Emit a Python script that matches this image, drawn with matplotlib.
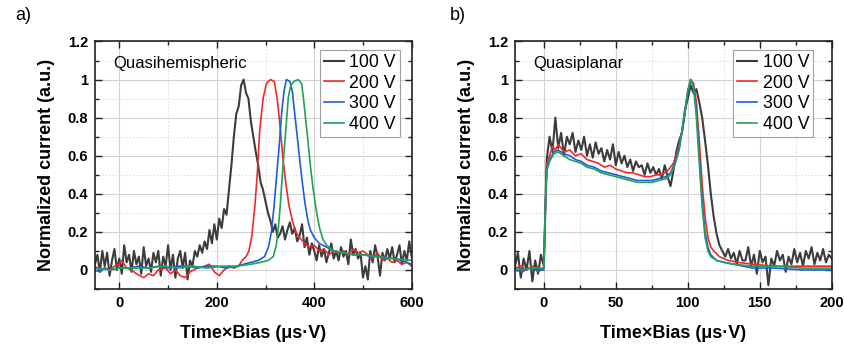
#!/usr/bin/env python3
"""Normalized transient current vs Time x Bias for two detector geometries."""

import matplotlib
matplotlib.use("Agg")
import matplotlib.pyplot as plt
from matplotlib.ticker import MultipleLocator, FuncFormatter
import numpy as np

plt.rcParams["font.family"] = ["Liberation Sans", "DejaVu Sans"]

labels = ["100 V", "200 V", "300 V", "400 V"]
colors = ["#3c3c3c", "#f02a2a", "#1f5fd6", "#1fa35a"]

# ── panel a: quasihemispheric ─────────────────────────────────────────────────
a_x100 = np.arange(-50, 601, 5)
a_y100 = [0.03, 0.08, -0.01, 0.1, 0.02, 0.09, -0.03, 0.05, 0.11, 0.0,
          0.06, -0.02, 0.13, 0.04, 0.08, -0.01, 0.1, 0.03, 0.07, -0.02,
          0.12, 0.02, 0.06, -0.01, 0.09, 0.04, 0.1, -0.03, 0.07, 0.02,
          0.13, 0.0, 0.08, -0.04, 0.06, 0.1, 0.01, 0.09, -0.05, 0.05,
          0.02, 0.1, 0.07, 0.13, 0.09, 0.15, 0.11, 0.21, 0.14, 0.24,
          0.16, 0.27, 0.22, 0.32, 0.29, 0.42, 0.55, 0.7, 0.82, 0.86,
          0.97, 1.0, 0.93, 0.9, 0.78, 0.7, 0.62, 0.55, 0.46, 0.42,
          0.36, 0.3, 0.26, 0.2, 0.24, 0.17, 0.19, 0.23, 0.16, 0.21,
          0.25, 0.19, 0.22, 0.15, 0.18, 0.24, 0.12, 0.17, 0.08, 0.14,
          0.1, 0.05, 0.13, 0.07, 0.11, 0.04, 0.09, 0.14, 0.06, 0.1,
          0.05, 0.12, 0.07, 0.1, 0.03, 0.16, 0.08, 0.11, 0.06, 0.09,
          -0.04, 0.02, -0.05, 0.1, 0.04, 0.13, 0.07, -0.03, 0.09, 0.05,
          0.11, 0.06, 0.12, 0.04, 0.08, 0.13, 0.03, 0.1, 0.05, 0.15,
          0.07]

a_x200 = [-50, -40, -30, -20, -10, 0, 5, 15, 25, 35, 50, 60, 70, 80, 95, 105,
          115, 125, 135, 145, 160, 175, 185, 195, 205, 215, 225, 235, 245, 252,
          260, 266, 272, 278, 283, 288, 295, 302, 310, 318, 324, 330, 336, 342,
          348, 355, 362, 370, 380, 390, 400, 410, 420, 430, 440, 450, 460, 470,
          480, 490, 500, 510, 520, 530, 540, 550, 560, 570, 580, 590, 600]
a_y200 = [0.02, 0.0, 0.01, 0.0, 0.02, 0.03, 0.05, 0.01, 0.0, -0.02, -0.04,
          -0.02, -0.03, 0.0, 0.01, -0.02, 0.0, -0.03, -0.04, -0.01, 0.01, 0.02,
          0.03, -0.01, -0.03, 0.0, 0.02, 0.01, 0.02, 0.05, 0.07, 0.1, 0.18,
          0.33, 0.5, 0.73, 0.9, 0.98, 1.0, 0.99, 0.9, 0.75, 0.58, 0.45, 0.34,
          0.26, 0.2, 0.17, 0.14, 0.12, 0.13, 0.1, 0.11, 0.08, 0.1, 0.09, 0.1,
          0.08, 0.11, 0.09, 0.1, 0.08, 0.06, 0.09, 0.05, 0.06, 0.04, 0.05,
          0.03, 0.04, 0.02]

a_x300 = [-50, -40, -30, -20, 0, 20, 40, 60, 80, 100, 120, 140, 160, 180, 200,
          220, 240, 255, 270, 285, 298, 306, 312, 317, 322, 328, 333, 338, 343,
          350, 355, 360, 366, 371, 376, 381, 387, 392, 400, 410, 425, 440, 460,
          480, 500, 520, 540, 560, 580, 600]
a_y300 = [0.0, -0.01, 0.01, 0.0, 0.01, 0.01, 0.02, 0.01, 0.02, 0.01, 0.02,
          0.02, 0.01, 0.02, 0.02, 0.01, 0.02, 0.03, 0.04, 0.05, 0.07, 0.12,
          0.2, 0.32, 0.47, 0.65, 0.82, 0.94, 1.0, 0.99, 0.94, 0.82, 0.68, 0.56,
          0.45, 0.35, 0.26, 0.21, 0.17, 0.14, 0.12, 0.1, 0.09, 0.08, 0.08,
          0.07, 0.07, 0.06, 0.05, 0.03]

a_x400 = [-50, -20, 0, 30, 60, 90, 120, 150, 180, 210, 240, 270, 290, 305, 316,
          322, 326, 330, 334, 338, 342, 347, 352, 358, 367, 374, 378, 382, 387,
          392, 397, 402, 407, 412, 418, 425, 440, 460, 480, 500, 530, 560, 600]
a_y400 = [0.01, 0.0, 0.01, 0.01, 0.01, 0.02, 0.01, 0.02, 0.01, 0.02, 0.02,
          0.03, 0.04, 0.05, 0.07, 0.13, 0.21, 0.33, 0.48, 0.62, 0.75, 0.91,
          0.97, 0.99, 1.0, 0.98, 0.9, 0.8, 0.68, 0.55, 0.44, 0.35, 0.27, 0.21,
          0.16, 0.13, 0.1, 0.09, 0.08, 0.08, 0.07, 0.06, 0.05]

# ── panel b: quasiplanar ──────────────────────────────────────────────────────
b_x100 = np.arange(-20, 201, 2)
b_y100 = [0.02, 0.09, -0.04, 0.06, 0.0, 0.1, -0.06, 0.05, -0.02, 0.08,
          0.02, 0.58, 0.7, 0.62, 0.8, 0.64, 0.72, 0.6, 0.7, 0.66,
          0.72, 0.62, 0.68, 0.63, 0.7, 0.6, 0.66, 0.59, 0.67, 0.61,
          0.64, 0.57, 0.63, 0.58, 0.66, 0.55, 0.62, 0.56, 0.6, 0.54,
          0.58, 0.52, 0.57, 0.54, 0.55, 0.5, 0.56, 0.51, 0.54, 0.5,
          0.53, 0.48, 0.55, 0.49, 0.44, 0.52, 0.62, 0.68, 0.72, 0.84,
          0.9, 0.97, 0.93, 0.95, 0.88, 0.8, 0.68, 0.55, 0.4, 0.28,
          0.19, 0.13, 0.1, 0.07, 0.11, 0.06, 0.09, 0.03, 0.1, 0.05,
          0.05, 0.12, 0.02, 0.08, -0.02, 0.1, 0.04, 0.07, -0.08, 0.06,
          0.02, 0.1, 0.05, 0.08, -0.01, 0.07, 0.03, 0.11, 0.04, 0.09,
          0.02, 0.1, 0.06, 0.12, 0.03, 0.09, 0.05, 0.11, 0.04, 0.08,
          0.06]

b_x200 = [-20, -16, -12, -8, -4, 0, 1, 2, 4, 6, 8, 10, 14, 18, 22, 26, 30, 34,
          38, 42, 46, 50, 54, 58, 62, 66, 70, 74, 78, 82, 86, 90, 94, 97, 100,
          102, 104, 106, 108, 110, 112, 114, 116, 118, 122, 128, 135, 145, 160,
          180, 200]
b_y200 = [0.01, 0.02, 0.0, 0.02, -0.01, 0.01, 0.3, 0.55, 0.6, 0.65, 0.63,
          0.66, 0.62, 0.63, 0.6, 0.61, 0.58, 0.57, 0.56, 0.54, 0.55, 0.53,
          0.52, 0.51, 0.51, 0.5, 0.49, 0.49, 0.5, 0.5, 0.52, 0.56, 0.65, 0.78,
          0.94, 1.0, 0.98, 0.88, 0.68, 0.45, 0.28, 0.17, 0.12, 0.1, 0.07,
          0.05, 0.04, 0.03, 0.02, 0.02, 0.02]

b_x300 = [-20, -15, -10, -5, 0, 1, 2, 4, 7, 10, 14, 18, 22, 26, 30, 35, 40, 45,
          50, 55, 60, 65, 70, 75, 80, 85, 88, 91, 94, 97, 100, 102, 104, 106,
          108, 110, 112, 114, 116, 120, 125, 132, 145, 160, 180, 200]
b_y300 = [0.0, -0.01, 0.01, 0.0, 0.0, 0.3, 0.53, 0.58, 0.62, 0.63, 0.61,
          0.6, 0.58, 0.57, 0.55, 0.54, 0.52, 0.51, 0.5, 0.49, 0.48, 0.47,
          0.47, 0.47, 0.48, 0.49, 0.51, 0.56, 0.64, 0.77, 0.93, 1.0, 0.97,
          0.84, 0.6, 0.36, 0.2, 0.12, 0.08, 0.05, 0.04, 0.03, 0.01, 0.01, 0.0,
          0.0]

b_x400 = b_x300
b_y400 = [0.01, 0.0, 0.01, 0.01, 0.01, 0.32, 0.52, 0.57, 0.61, 0.62, 0.6,
          0.58, 0.57, 0.56, 0.54, 0.53, 0.51, 0.5, 0.49, 0.48, 0.47, 0.46,
          0.46, 0.46, 0.47, 0.48, 0.5, 0.55, 0.63, 0.78, 0.94, 1.0, 0.96, 0.8,
          0.56, 0.33, 0.17, 0.1, 0.07, 0.05, 0.04, 0.03, 0.02, 0.02, 0.01,
          0.01]


def style_axes(ax, xlim, xmajor, xminor, note, leg_x):
    ax.set_xlim(*xlim)
    ax.set_ylim(-0.1, 1.2)
    ax.xaxis.set_major_locator(MultipleLocator(xmajor))
    ax.xaxis.set_minor_locator(MultipleLocator(xminor))
    ax.yaxis.set_major_locator(MultipleLocator(0.2))
    ax.yaxis.set_minor_locator(MultipleLocator(0.1))
    ax.yaxis.set_major_formatter(FuncFormatter(lambda v, p: f"{v:g}"))
    ax.grid(True, which="major", color="#d2d2d2", lw=0.8, ls="-")
    ax.grid(True, which="minor", color="#d8d8d8", lw=0.7, ls=(0, (1.5, 2)))
    ax.set_axisbelow(True)
    ax.tick_params(which="both", direction="in", top=True, right=True,
                   width=1.0, color="#222222")
    ax.tick_params(which="major", length=5, labelsize=10.5, pad=5)
    ax.tick_params(which="minor", length=3)
    for lab in ax.get_xticklabels() + ax.get_yticklabels():
        lab.set_fontweight("bold")
    for sp in ax.spines.values():
        sp.set_linewidth(1.2)
        sp.set_color("#222222")
    ax.set_xlabel("Time×Bias (μs·V)", fontsize=13, fontweight="bold", labelpad=11)
    ax.set_ylabel("Normalized current (a.u.)", fontsize=13, fontweight="bold",
                  labelpad=9)
    ax.text(0.057, 0.913, note, transform=ax.transAxes, fontsize=12,
            va="center", ha="left")
    leg = ax.legend(loc="upper right", bbox_to_anchor=(leg_x, 0.965),
                    borderaxespad=0, fontsize=12.8, frameon=True, fancybox=False,
                    handlelength=1.12, handletextpad=0.32, labelspacing=0.2,
                    borderpad=0.22)
    leg.get_frame().set_edgecolor("#888888")
    leg.get_frame().set_linewidth(0.8)


fig = plt.figure(figsize=(8.45, 3.49), dpi=100)
ax_a = fig.add_axes([0.1124, 0.1719, 0.3748, 0.7092])
ax_b = fig.add_axes([0.6095, 0.1719, 0.3748, 0.7092])

for (x, y), lab, col in zip([(a_x100, a_y100), (a_x200, a_y200),
                             (a_x300, a_y300), (a_x400, a_y400)], labels, colors):
    ax_a.plot(x, y, color=col, lw=1.5 if lab == "100 V" else 1.2, label=lab)

for (x, y), lab, col in zip([(b_x100, b_y100), (b_x200, b_y200),
                             (b_x300, b_y300), (b_x400, b_y400)], labels, colors):
    ax_b.plot(x, y, color=col, lw=1.5 if lab == "100 V" else 1.2, label=lab)

style_axes(ax_a, (-50, 600), 200, 100, "Quasihemispheric", 0.963)
style_axes(ax_b, (-20, 200), 50, 25, "Quasiplanar", 0.941)

fig.text(0.027, 0.957, "a)", fontsize=13, va="center", ha="center")
fig.text(0.542, 0.957, "b)", fontsize=13, va="center", ha="center")

fig.savefig("out.png", dpi=100)
